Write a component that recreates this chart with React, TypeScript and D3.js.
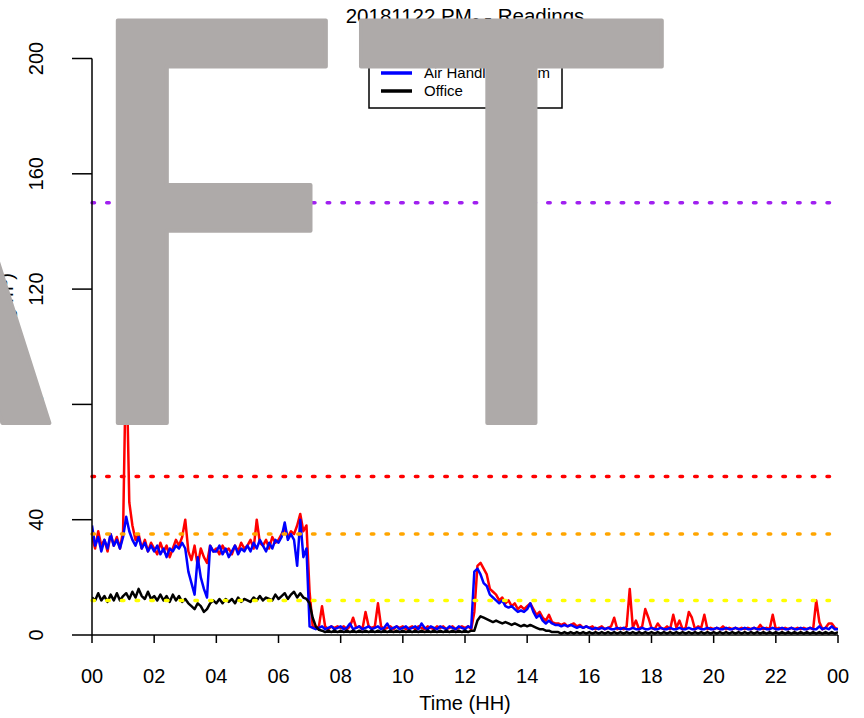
import * as d3 from 'd3'

// hours sampled every 6 minutes (0.0 .. 24.0)
const HOURS = d3.range(0, 241).map((i) => i / 10)

// PM2.5 readings, one value per 0.1 h
const outdoor = [
  34, 30, 36, 31, 33, 29, 35, 31, 34, 30,
  36, 100, 46, 38, 33, 35, 30, 33, 29, 32,
  30, 28, 32, 29, 31, 27, 30, 33, 31, 34,
  40, 29, 26, 31, 24, 30, 27, 25, 31, 29,
  30, 28, 31, 29, 30, 28, 31, 29, 32, 30,
  31, 33, 30, 40, 32, 31, 33, 30, 34, 32,
  33, 35, 37, 34, 36, 35, 38, 42, 36, 38,
  15, 3, 2.5, 3, 10, 3, 2, 3, 2.5, 3,
  2.5, 3, 2, 3, 6, 2.5, 3, 2, 8, 3,
  2.5, 3, 11, 3, 2, 2.5, 3, 2, 3, 2.5,
  3, 2, 2.5, 3, 2, 3, 2.5, 2, 3, 2.5,
  2, 3, 2.5, 3, 2, 2.5, 3, 2, 2.5, 3,
  2.5, 3, 2, 8, 24, 25, 23, 21, 16, 15,
  14, 12, 13, 11, 12, 10, 11, 9, 10, 9,
  10, 11, 9, 7, 8, 6, 5, 7, 4.5, 4,
  4, 3.5, 4, 3, 3.5, 4, 3, 3.5, 2.5, 3,
  2.5, 3, 2, 2.5, 3, 2, 2.5, 3, 6, 2,
  2.5, 2, 3, 16, 2.5, 5, 2, 3, 9, 6,
  2.5, 2, 4, 2.5, 2, 3, 2, 7, 2.5, 5,
  2, 2.5, 8, 6, 2, 3, 2.5, 7, 2, 2.5,
  2, 2.5, 2, 3, 2, 2.5, 2, 2.5, 2, 2.5,
  2, 2.5, 2, 2.5, 2, 3.5, 2, 2.5, 2, 7,
  2, 2.5, 2, 2.5, 2, 2.5, 2, 2.5, 2, 2.5,
  2, 2.5, 2, 12, 4.5, 2, 2.5, 4, 4, 2.5,
  2,
]

const airHandlingRoom = [
  38, 31, 34, 29, 33, 30, 35, 31, 33, 30,
  34, 41, 36, 33, 31, 34, 30, 32, 29, 31,
  29, 31, 28, 30, 27, 30, 29, 31, 30, 32,
  30, 22, 18, 14, 27, 20, 16, 13, 31, 29,
  29, 31, 28, 30, 27, 29, 31, 28, 30, 29,
  31, 29, 32, 30, 33, 31, 29, 32, 30, 33,
  32, 34, 39, 33, 35, 33, 24, 40, 27, 30,
  3, 2.5, 2, 2.5, 3, 2, 2.5, 3, 2, 2.5,
  3, 2, 2.5, 4, 2, 2.5, 3, 2, 2.5, 3,
  2, 2.5, 3, 2, 2.5, 4, 2, 2.5, 3, 2,
  2.5, 3, 2, 2.5, 3, 2, 4, 2.5, 2, 3,
  2.5, 2, 3, 2.5, 2, 3, 2.5, 2, 3, 2.5,
  2, 3, 2.5, 22, 23, 21, 18, 17, 14, 13,
  12, 11, 12, 10, 9.5, 10, 9, 8, 8.5, 8,
  9, 11, 8, 6, 7, 5, 4, 5, 4, 3.5,
  3.5, 3, 3.5, 3, 3.5, 3, 2.5, 3, 2.5, 3,
  2.5, 2, 2.5, 2, 2.5, 2, 2.5, 2, 2, 2.5,
  2, 2.5, 2, 2, 2.5, 2, 2, 2.5, 2, 2,
  2.5, 2, 2, 2.5, 2, 2, 2.5, 2, 2, 2.5,
  2, 2, 2.5, 2, 2, 2.5, 2, 2, 2.5, 2,
  2, 2.5, 2, 2, 2.5, 2, 2, 2.5, 2, 2,
  2.5, 2, 2, 2.5, 2, 2, 2.5, 2, 2, 2.5,
  2, 2, 2.5, 2, 2, 2.5, 2, 2, 2.5, 2,
  2, 2.5, 2, 2, 3, 2, 2.5, 2, 3, 2,
  2,
]

const office = [
  13, 12, 14.5, 12, 13.5, 11.5, 14, 12, 14.5, 12,
  13.5, 14.5, 12.5, 15, 13, 16, 13.5, 12.5, 15, 12.5,
  13.5, 12, 14, 12, 13.5, 11.5, 14, 12, 13.5, 11.5,
  12.5, 11, 10, 9, 11, 10, 8, 9, 11, 12,
  11, 12.5, 11, 12.5, 11.5, 12.5, 11, 13, 11.5, 12.5,
  12, 11.5, 13, 12, 13.5, 12, 13, 12.5, 12, 14,
  12.5, 13.5, 14.5, 12.5, 14, 15, 13, 14.5, 13, 12.5,
  11, 6, 3, 1.8, 1.5, 1, 1.5, 1, 1.5, 1,
  1.5, 1, 1.5, 1, 1.5, 1, 1.5, 1, 1.5, 1,
  1.5, 1, 1.5, 1, 1.5, 1, 1.5, 1, 1.5, 1,
  1.5, 1, 1.5, 1, 1.5, 1, 1.5, 1, 1.5, 1,
  1.5, 1, 1.5, 1, 1.5, 1, 1.5, 1, 1.5, 1,
  1.5, 1, 1.5, 1.5, 5, 6.5, 6, 5.5, 5, 4.5,
  5, 4.5, 4, 4.5, 4, 3.5, 4, 3.5, 3, 3.5,
  3, 3.5, 3, 2.5, 2, 2, 1.5, 1.5, 1, 1,
  1, 0.5, 1, 0.5, 1, 0.5, 1, 0.5, 1, 0.5,
  1, 0.5, 1, 0.5, 1, 0.5, 1, 0.5, 1, 0.5,
  1, 0.5, 1, 0.5, 1, 0.5, 1, 0.5, 1, 0.5,
  1, 0.5, 1, 0.5, 1, 0.5, 1, 0.5, 1, 0.5,
  1, 0.5, 1, 0.5, 1, 0.5, 1, 0.5, 1, 0.5,
  1, 0.5, 1, 0.5, 1, 0.5, 1, 0.5, 1, 0.5,
  1, 0.5, 1, 0.5, 1, 0.5, 1, 0.5, 1, 0.5,
  1, 0.5, 1, 0.5, 1, 0.5, 1, 0.5, 1, 0.5,
  1, 0.5, 1, 0.5, 1, 0.5, 1, 0.5, 1, 0.5,
  1,
]

// threshold lines (value, colour)
const thresholds = [12, 35, 55, 150]
const thresholdColors = ['#FFFF00', '#FFA500', '#FF0000', '#A020F0']

const xTicks = [0, 2, 4, 6, 8, 10, 12, 14, 16, 18, 20, 22, 24]
const yTicks = [0, 40, 80, 120, 160, 200]

const legendLabels = ['Air Handling Room', 'Office']
const legendColors = ['#0000FF', '#000000']

const W = 864
const H = 718
const LEFT = 92
const RIGHT = 838
const TOP = 58.5
const BOTTOM = 635
const FONT = '"Liberation Sans", Arial, sans-serif'
const GREY = '#AEAAA9'

export default function App() {
  const x = d3.scaleLinear().domain([0, 24]).range([LEFT, RIGHT])
  const y = d3.scaleLinear().domain([0, 200]).range([BOTTOM, TOP])

  const line = d3
    .line<number>()
    .x((_, i) => x(HOURS[i]))
    .y((d) => y(d))

  const series = [
    { values: outdoor, color: '#FF0000' },
    { values: airHandlingRoom, color: '#0000FF' },
    { values: office, color: '#000000' },
  ]

  return (
    <svg
      width={W}
      height={H}
      viewBox={`0 0 ${W} ${H}`}
      style={{ position: 'absolute', left: 0, top: 0, background: 'white' }}
      fontFamily={FONT}
    >
      <defs>
        <clipPath id="plot">
          <rect x={LEFT} y={TOP} width={RIGHT - LEFT} height={BOTTOM - TOP} />
        </clipPath>
      </defs>

      {/* data */}
      <g clipPath="url(#plot)">
        {series.map((s, i) => (
          <path
            key={i}
            d={line(s.values) ?? ''}
            fill="none"
            stroke={s.color}
            strokeWidth={2.5}
            strokeLinejoin="round"
          />
        ))}
      </g>

      {/* guideline thresholds */}
      {thresholds.map((t, i) => (
        <line
          key={t}
          x1={LEFT}
          x2={RIGHT}
          y1={y(t)}
          y2={y(t)}
          stroke={thresholdColors[i]}
          strokeWidth={3.5}
          strokeDasharray="2.5 12.2"
          strokeLinecap="round"
        />
      ))}

      {/* axes */}
      <line x1={LEFT} x2={LEFT} y1={y(200)} y2={y(0)} stroke="black" strokeWidth={1.5} />
      {yTicks.map((t) => (
        <g key={t}>
          <line x1={LEFT - 20} x2={LEFT} y1={y(t)} y2={y(t)} stroke="black" strokeWidth={1.5} />
          <text
            transform={`translate(43,${y(t)}) rotate(-90)`}
            textAnchor="middle"
            fontSize={20}
          >
            {t}
          </text>
        </g>
      ))}
      <line x1={x(0)} x2={x(24)} y1={BOTTOM} y2={BOTTOM} stroke="black" strokeWidth={1.5} />
      {xTicks.map((t) => (
        <g key={t}>
          <line x1={x(t)} x2={x(t)} y1={BOTTOM} y2={BOTTOM + 8} stroke="black" strokeWidth={1.5} />
          <text x={x(t)} y={683} textAnchor="middle" fontSize={20}>
            {String(t % 24).padStart(2, '0')}
          </text>
        </g>
      ))}

      <text x={(LEFT + RIGHT) / 2} y={710} textAnchor="middle" fontSize={20}>
        Time (HH)
      </text>
      <text transform="translate(13,273) rotate(-90)" textAnchor="end" fontSize={20}>
        PM<tspan fontSize={14} dy={5}>2.5</tspan>
        <tspan dy={-5}> (µg/m³)</tspan>
      </text>

      {/* title */}
      <text x={(LEFT + RIGHT) / 2} y={23} textAnchor="middle" fontSize={20.5}>
        20181122 PM<tspan fontSize={14.5} dy={5}>2.5</tspan>
        <tspan dy={-5}> Readings</tspan>
      </text>

      {/* legend */}
      <rect x={369} y={57} width={193} height={51} fill="white" stroke="black" strokeWidth={1.5} />
      {legendLabels.map((l, i) => (
        <g key={l}>
          <line
            x1={381}
            x2={412}
            y1={73 + i * 18}
            y2={73 + i * 18}
            stroke={legendColors[i]}
            strokeWidth={3.5}
          />
          <text x={424} y={78 + i * 18} fontSize={15}>
            {l}
          </text>
        </g>
      ))}

      {/* watermark */}
      <text
        y={423}
        fontFamily='"DejaVu Sans Condensed", "DejaVu Sans", sans-serif'
        fontStretch="condensed"
        fontSize={552}
        fill={GREY}
        stroke={GREY}
        strokeWidth={4}
        strokeLinejoin="round"
      >
        <tspan x={53} textAnchor="end" textLength={970} lengthAdjust="spacingAndGlyphs">
          DRA
        </tspan>
        <tspan x={69}>F</tspan>
        <tspan x={362} textLength={298} lengthAdjust="spacingAndGlyphs">
          T
        </tspan>
      </text>
    </svg>
  )
}
